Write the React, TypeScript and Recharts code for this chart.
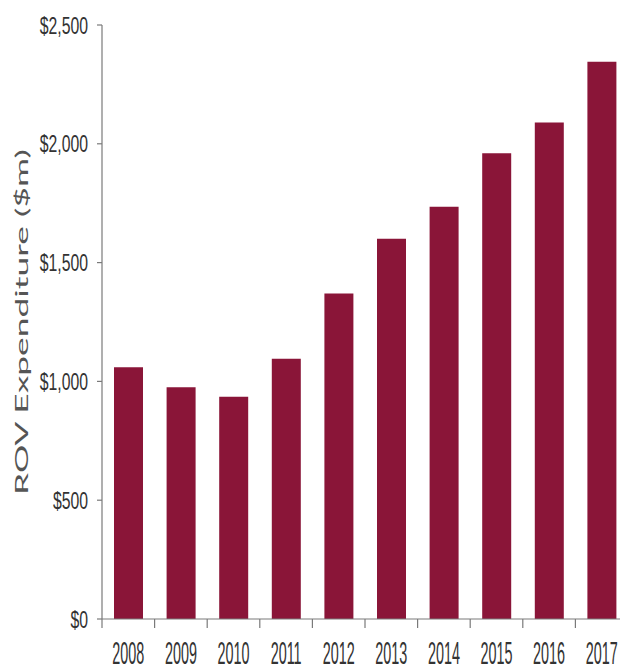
import React from 'react';
import { BarChart, Bar, XAxis, YAxis } from 'recharts';

const years = ['2008', '2009', '2010', '2011', '2012', '2013', '2014', '2015', '2016', '2017'];
const spend = [1060, 975, 935, 1095, 1370, 1600, 1735, 1960, 2090, 2345];
const yTicks = [0, 500, 1000, 1500, 2000, 2500];

const data = years.map((year, i) => ({ year, spend: spend[i] }));

const CHART_W = 640;
const CHART_H = 671;
const MARGIN = { top: 25, right: 12, left: 0, bottom: 0 };
const Y_AXIS_W = 102;
const X_AXIS_H = 52;
const BAND = (CHART_W - MARGIN.left - MARGIN.right - Y_AXIS_W) / years.length;
const AXIS_Y = CHART_H - MARGIN.bottom - X_AXIS_H;

const BAR_COLOR = '#8a1538';
const TEXT_COLOR = '#333';
const AXIS_COLOR = '#7a7a7a';
const TICK_FONT = '"Liberation Sans", Arial, sans-serif';

const money = (v: number) => '$' + v.toLocaleString('en-US');

const YTick = (props: any) => {
  const { x, y, payload } = props;
  return (
    <g transform={`translate(${x},${y}) scale(0.79,1.2)`}>
      <text textAnchor="end" dy="0.36em" fontFamily={TICK_FONT} fontSize={20} fill={TEXT_COLOR}>
        {money(payload.value)}
      </text>
    </g>
  );
};

// labels sit under the bar, tick marks sit on the category boundaries
const XTick = (props: any) => {
  const { x, payload } = props;
  const left = x - BAND / 2;
  return (
    <g>
      <line x1={left} x2={left} y1={AXIS_Y} y2={AXIS_Y + 9} stroke={AXIS_COLOR} strokeWidth={1.2} />
      <g transform={`translate(${x},${AXIS_Y + 45}) scale(0.72,1.55)`}>
        <text textAnchor="middle" fontFamily={TICK_FONT} fontSize={20} fill={TEXT_COLOR}>
          {payload.value}
        </text>
      </g>
    </g>
  );
};

const YLabel = (props: any) => {
  const { viewBox } = props;
  const cy = viewBox.y + viewBox.height / 2;
  const bx = 28;
  return (
    <text
      x={bx}
      y={cy}
      transform={`rotate(-90, ${bx}, ${cy})`}
      textAnchor="middle"
      fontFamily="Lato, 'Open Sans', sans-serif"
      fontSize={18}
      textLength={346}
      lengthAdjust="spacingAndGlyphs"
      fill="#555"
    >
      ROV  Expenditure ($m)
    </text>
  );
};

export default function App() {
  return (
    <div
      style={{
        position: 'fixed',
        left: 0,
        top: 0,
        width: 620,
        height: 671,
        overflow: 'hidden',
        background: '#fff',
      }}
    >
      <BarChart width={CHART_W} height={CHART_H} data={data} margin={MARGIN} barSize={29}>
        <XAxis
          dataKey="year"
          height={X_AXIS_H}
          tickLine={false}
          axisLine={{ stroke: AXIS_COLOR, strokeWidth: 1.2 }}
          tick={<XTick />}
          interval={0}
        />
        <YAxis
          width={Y_AXIS_W}
          domain={[0, 2500]}
          ticks={yTicks}
          tickSize={5}
          tickMargin={9}
          tickLine={{ stroke: AXIS_COLOR, strokeWidth: 1.2 }}
          axisLine={{ stroke: AXIS_COLOR, strokeWidth: 1.2 }}
          tick={<YTick />}
          label={{ content: <YLabel /> }}
        />
        <Bar dataKey="spend" fill={BAR_COLOR} isAnimationActive={false} />
      </BarChart>
    </div>
  );
}
